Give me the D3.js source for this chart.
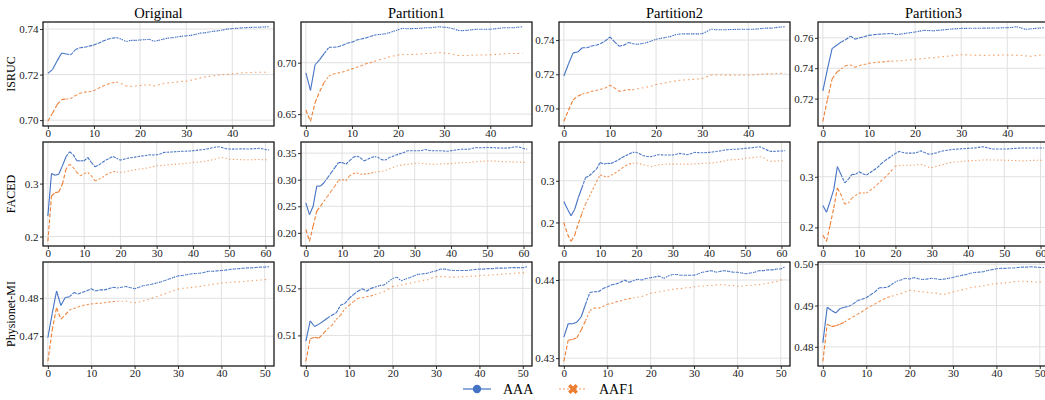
<!DOCTYPE html>
<html>
<head>
<meta charset="utf-8">
<script src="https://cdn.jsdelivr.net/npm/d3@7"></script>
<style>
body { margin: 0; background: #fff; }
svg { font-family: "Liberation Serif", "DejaVu Serif", serif; }
</style>
</head>
<body>
<svg id="chart" width="1045" height="400"></svg>
<script>
// facets
var datasets = ["ISRUC", "FACED", "Physionet-MI"];
var splits = ["Original", "Partition1", "Partition2", "Partition3"];
var methods = ["AAA", "AAF1"];

// tick labels
var xTicks = [[0, 10, 20, 30, 40], [0, 10, 20, 30, 40, 50, 60], [0, 10, 20, 30, 40, 50]];
var isrucTicks = [[0.70, 0.72, 0.74], [0.65, 0.70], [0.70, 0.72, 0.74], [0.72, 0.74, 0.76]];
var facedTicks = [[0.2, 0.3], [0.20, 0.25, 0.30, 0.35], [0.2, 0.3], [0.2, 0.3]];
var physioTicks = [[0.47, 0.48], [0.51, 0.52], [0.43, 0.44], [0.48, 0.49, 0.50]];

// ---- ISRUC ----
var isrucOrigAAA = [0.7205,0.7222,0.7260,0.7295,0.7290,0.7287,0.7310,0.7318,0.7320,0.7325,0.7330,0.7338,0.7347,0.7355,0.7360,0.7362,0.7355,0.7345,0.7350,0.7350,0.7352,0.7353,0.7355,0.7346,0.7350,0.7355,0.7360,0.7362,0.7365,0.7368,0.7370,0.7372,0.7376,0.7382,0.7383,0.7387,0.7390,0.7392,0.7396,0.7400,0.7402,0.7403,0.7405,0.7406,0.7407,0.7408,0.7408,0.7409,0.7410];
var isrucOrigAAF1 = [0.6995,0.7030,0.7068,0.7090,0.7093,0.7095,0.7108,0.7118,0.7123,0.7125,0.7130,0.7140,0.7150,0.7158,0.7164,0.7167,0.7160,0.7150,0.7148,0.7150,0.7152,0.7154,0.7155,0.7150,0.7155,0.7160,0.7163,0.7165,0.7167,0.7170,0.7171,0.7175,0.7180,0.7185,0.7189,0.7192,0.7195,0.7198,0.7200,0.7201,0.7203,0.7205,0.7207,0.7208,0.7209,0.7210,0.7210,0.7210,0.7210];
var isrucP1AAA = [0.690,0.673,0.698,0.703,0.709,0.715,0.715,0.7155,0.717,0.719,0.720,0.722,0.723,0.724,0.7255,0.727,0.7275,0.728,0.729,0.7305,0.732,0.7335,0.733,0.7332,0.7333,0.7335,0.734,0.734,0.7345,0.735,0.7345,0.734,0.733,0.7315,0.7312,0.7315,0.732,0.7325,0.7325,0.7325,0.7325,0.733,0.7335,0.734,0.734,0.734,0.7345,0.735];
var isrucP1AAF1 = [0.654,0.643,0.661,0.672,0.681,0.687,0.689,0.690,0.691,0.6925,0.694,0.6955,0.697,0.699,0.700,0.7015,0.703,0.704,0.7055,0.7065,0.7075,0.708,0.708,0.708,0.7082,0.7085,0.709,0.709,0.7095,0.710,0.7095,0.709,0.708,0.707,0.707,0.707,0.7072,0.7075,0.7075,0.7075,0.7076,0.708,0.7082,0.7085,0.709,0.709,0.709,0.7092];
var isrucP2AAA = [0.719,0.726,0.7325,0.733,0.7355,0.7355,0.7365,0.737,0.738,0.7395,0.7418,0.739,0.7364,0.737,0.7386,0.7378,0.7375,0.738,0.7385,0.7395,0.7405,0.741,0.7415,0.742,0.743,0.7435,0.7436,0.7436,0.7436,0.7436,0.7437,0.745,0.7465,0.746,0.746,0.746,0.7462,0.7462,0.7463,0.7463,0.7463,0.7463,0.7465,0.7468,0.747,0.747,0.7473,0.7476,0.7478];
var isrucP2AAF1 = [0.6925,0.699,0.705,0.7072,0.7085,0.709,0.710,0.7105,0.7112,0.712,0.7136,0.712,0.710,0.7105,0.711,0.711,0.7115,0.712,0.7125,0.713,0.714,0.7145,0.715,0.7155,0.716,0.7164,0.7166,0.7168,0.717,0.7172,0.7175,0.7185,0.7196,0.7196,0.7196,0.7195,0.7195,0.7194,0.7194,0.7194,0.7194,0.7196,0.7198,0.720,0.7202,0.7203,0.7204,0.7205,0.7206];
var isrucP3AAA = [0.7251,0.7396,0.7529,0.7551,0.7573,0.7589,0.7611,0.7591,0.7600,0.7608,0.7616,0.7620,0.7624,0.7625,0.7627,0.7629,0.7620,0.7625,0.7630,0.7634,0.7638,0.7644,0.7649,0.7648,0.7646,0.7649,0.7652,0.7655,0.7658,0.7660,0.7662,0.7662,0.7663,0.7663,0.7663,0.7664,0.7664,0.7665,0.7665,0.7666,0.7667,0.7668,0.7673,0.7665,0.7656,0.7658,0.7662,0.7664,0.7667];
var isrucP3AAF1 = [0.7051,0.7196,0.7329,0.7373,0.7396,0.7418,0.7422,0.7407,0.7418,0.7425,0.7433,0.7436,0.7440,0.7442,0.7445,0.7447,0.7448,0.7450,0.7452,0.7455,0.7458,0.7461,0.7464,0.7467,0.7470,0.7473,0.7476,0.7479,0.7482,0.7486,0.7489,0.7488,0.7487,0.7486,0.7485,0.7484,0.7485,0.7486,0.7486,0.7487,0.7487,0.7486,0.7485,0.7484,0.7481,0.7478,0.7482,0.7486,0.7489];

// ---- FACED ----
var facedOrigAAA = [0.2386,0.319,0.3158,0.3177,0.3335,0.3506,0.3601,0.3544,0.343,0.343,0.343,0.3494,0.3399,0.3316,0.3348,0.3399,0.3443,0.348,0.3513,0.3475,0.3443,0.346,0.348,0.349,0.350,0.3513,0.352,0.353,0.3544,0.354,0.3544,0.356,0.3589,0.3592,0.3596,0.3601,0.3605,0.361,0.3612,0.3615,0.362,0.3628,0.3636,0.3645,0.3655,0.3671,0.3685,0.3696,0.368,0.366,0.3652,0.365,0.3652,0.3655,0.3655,0.3652,0.3655,0.366,0.3665,0.3658,0.3645,0.3633];
var facedOrigAAF1 = [0.1911,0.2766,0.283,0.2842,0.2987,0.3272,0.3367,0.3304,0.3209,0.3146,0.319,0.3209,0.3146,0.3051,0.3082,0.3114,0.3165,0.320,0.3228,0.322,0.3209,0.322,0.3235,0.325,0.326,0.3272,0.328,0.329,0.3305,0.332,0.3335,0.334,0.3345,0.335,0.336,0.3367,0.337,0.3375,0.338,0.339,0.3399,0.3405,0.341,0.3418,0.343,0.3443,0.346,0.3478,0.3494,0.348,0.3462,0.3458,0.3455,0.3452,0.345,0.345,0.345,0.3452,0.3455,0.3452,0.345,0.345];
var facedP1AAA = [0.2565,0.2342,0.250,0.288,0.288,0.2943,0.3038,0.3132,0.3227,0.3322,0.3322,0.329,0.3353,0.3416,0.3448,0.3416,0.3353,0.3385,0.3416,0.3435,0.3416,0.3372,0.3372,0.3416,0.344,0.3467,0.349,0.3511,0.3543,0.3543,0.3543,0.3545,0.355,0.3568,0.355,0.3543,0.3545,0.3545,0.354,0.3535,0.3543,0.3555,0.3565,0.3574,0.357,0.3574,0.359,0.3606,0.360,0.3602,0.3606,0.3604,0.360,0.3598,0.3595,0.3593,0.3598,0.361,0.362,0.361,0.3585,0.3574];
var facedP1AAF1 = [0.2063,0.1842,0.2126,0.241,0.250,0.2597,0.2691,0.2786,0.288,0.2987,0.3006,0.2975,0.307,0.3113,0.3132,0.3101,0.3105,0.3113,0.3125,0.314,0.3151,0.316,0.3176,0.320,0.323,0.3258,0.327,0.328,0.329,0.330,0.3309,0.331,0.3305,0.330,0.3295,0.329,0.329,0.3295,0.330,0.3302,0.3303,0.331,0.3315,0.3318,0.332,0.3322,0.333,0.334,0.3345,0.335,0.3353,0.3352,0.335,0.3345,0.334,0.334,0.3338,0.3335,0.3332,0.333,0.3325,0.3322];
var facedP2AAA = [0.2504,0.232,0.216,0.232,0.26,0.284,0.308,0.312,0.32,0.328,0.344,0.34,0.3416,0.3416,0.3456,0.3496,0.356,0.360,0.364,0.368,0.368,0.364,0.360,0.358,0.3576,0.360,0.3624,0.362,0.3618,0.3616,0.3616,0.3636,0.3656,0.364,0.3624,0.365,0.368,0.3675,0.367,0.3675,0.368,0.369,0.370,0.3715,0.373,0.3744,0.375,0.3755,0.376,0.3768,0.3776,0.3785,0.3795,0.3805,0.3816,0.378,0.3735,0.3704,0.3705,0.371,0.3715,0.372];
var facedP2AAF1 = [0.200,0.172,0.155,0.170,0.198,0.222,0.245,0.262,0.280,0.298,0.314,0.311,0.309,0.313,0.318,0.323,0.330,0.336,0.340,0.342,0.3424,0.3405,0.3384,0.336,0.3336,0.336,0.3384,0.339,0.3395,0.3398,0.340,0.340,0.340,0.340,0.340,0.340,0.3405,0.341,0.3415,0.342,0.3424,0.343,0.344,0.3455,0.347,0.3496,0.350,0.3505,0.351,0.352,0.3536,0.3545,0.3555,0.3565,0.3576,0.355,0.350,0.3464,0.347,0.3475,0.348,0.348];
var facedP3AAA = [0.2433,0.23,0.2513,0.2747,0.32,0.3047,0.288,0.2947,0.3047,0.3047,0.31,0.306,0.3033,0.308,0.313,0.318,0.325,0.3313,0.336,0.3413,0.346,0.35,0.348,0.3467,0.3467,0.3467,0.348,0.3513,0.348,0.3447,0.345,0.3467,0.349,0.351,0.352,0.3533,0.354,0.3545,0.355,0.3555,0.356,0.3565,0.357,0.358,0.3593,0.358,0.356,0.3547,0.3547,0.3547,0.3547,0.355,0.3555,0.356,0.3565,0.3567,0.3567,0.3567,0.3567,0.3567,0.3567,0.3567];
var facedP3AAF1 = [0.1847,0.1727,0.2047,0.238,0.278,0.2647,0.246,0.248,0.258,0.263,0.268,0.268,0.268,0.273,0.278,0.285,0.2913,0.298,0.3047,0.313,0.3213,0.322,0.3227,0.3227,0.3227,0.3227,0.324,0.3247,0.322,0.319,0.318,0.320,0.322,0.324,0.326,0.328,0.329,0.3295,0.330,0.3305,0.3313,0.3318,0.3322,0.3326,0.333,0.3333,0.3332,0.3331,0.333,0.3328,0.3327,0.3325,0.3322,0.332,0.3316,0.3313,0.3316,0.332,0.3323,0.3325,0.3327,0.3327];

// ---- Physionet-MI ----
var physioOrigAAA = [0.4696,0.476,0.4819,0.4781,0.4802,0.4804,0.4815,0.4811,0.4816,0.482,0.4825,0.4819,0.4822,0.4822,0.4825,0.4829,0.4827,0.4829,0.4831,0.4828,0.4825,0.4829,0.4833,0.4835,0.4837,0.484,0.4843,0.4847,0.4851,0.4855,0.4859,0.486,0.4862,0.4864,0.4865,0.4866,0.4868,0.4871,0.4871,0.4872,0.4873,0.4874,0.4876,0.4877,0.4878,0.4879,0.488,0.488,0.4881,0.4882,0.4882,0.4883];
var physioOrigAAF1 = [0.4634,0.4716,0.4775,0.4745,0.4756,0.4769,0.4773,0.4777,0.4781,0.4783,0.4785,0.4786,0.4787,0.4788,0.479,0.4791,0.4792,0.4792,0.4793,0.479,0.4788,0.479,0.4793,0.4796,0.48,0.4804,0.4808,0.4812,0.4816,0.482,0.4824,0.4826,0.4827,0.4828,0.483,0.4831,0.4833,0.4835,0.4837,0.4838,0.484,0.4841,0.4842,0.4843,0.4843,0.4844,0.4845,0.4846,0.4847,0.4848,0.4849,0.485];
var physioP1AAA = [0.5088,0.5131,0.5119,0.5124,0.513,0.5137,0.5143,0.5148,0.5164,0.5168,0.5179,0.5187,0.5194,0.5199,0.5194,0.52,0.5203,0.5206,0.5207,0.5214,0.5221,0.5224,0.5216,0.522,0.5223,0.5227,0.523,0.5231,0.5232,0.5235,0.5237,0.5241,0.5241,0.5239,0.5238,0.5238,0.5238,0.5238,0.5239,0.524,0.5241,0.5241,0.5242,0.5242,0.5243,0.5243,0.5243,0.5244,0.5244,0.5244,0.5244,0.5246];
var physioP1AAF1 = [0.5045,0.5093,0.5096,0.5094,0.5104,0.5114,0.5121,0.5134,0.5143,0.5157,0.5164,0.5172,0.5179,0.518,0.5182,0.5184,0.5187,0.519,0.5193,0.5198,0.5204,0.5205,0.5207,0.5209,0.5211,0.5213,0.5215,0.5217,0.5218,0.5222,0.5225,0.5225,0.5225,0.5224,0.5224,0.5224,0.5225,0.5225,0.5226,0.5226,0.5227,0.5228,0.5228,0.5229,0.5229,0.523,0.5231,0.5231,0.5232,0.5233,0.5233,0.5234];
var physioP2AAA = [0.4327,0.4344,0.4344,0.4346,0.4353,0.4369,0.4384,0.4385,0.4385,0.4389,0.4391,0.4394,0.4395,0.4397,0.44,0.4397,0.4399,0.4401,0.44,0.4402,0.4403,0.4404,0.4405,0.4402,0.4405,0.4407,0.4407,0.4406,0.4406,0.4406,0.4406,0.4408,0.441,0.4411,0.4412,0.441,0.4411,0.4412,0.4411,0.441,0.441,0.4409,0.4408,0.4409,0.441,0.4412,0.4412,0.4413,0.4413,0.4414,0.4414,0.4417];
var physioP2AAF1 = [0.4296,0.4323,0.4324,0.4326,0.4336,0.4348,0.4361,0.4364,0.4364,0.4366,0.4369,0.437,0.4372,0.4373,0.4375,0.4376,0.4377,0.4378,0.4379,0.4381,0.4383,0.4384,0.4385,0.4386,0.4387,0.4388,0.4389,0.4389,0.439,0.439,0.4391,0.4392,0.4392,0.4393,0.4393,0.4394,0.4394,0.4394,0.4393,0.4393,0.4392,0.4392,0.4393,0.4393,0.4394,0.4394,0.4395,0.4396,0.4397,0.4398,0.44,0.4401];
var physioP3AAA = [0.481,0.4896,0.4888,0.4882,0.4893,0.4896,0.4898,0.4904,0.4912,0.4915,0.4919,0.4926,0.4933,0.4943,0.4943,0.4945,0.4952,0.4959,0.4962,0.4966,0.4964,0.4968,0.4965,0.4963,0.4964,0.4966,0.4965,0.4963,0.4964,0.4966,0.4968,0.4971,0.4973,0.4975,0.4978,0.498,0.4981,0.4982,0.4985,0.4987,0.4989,0.499,0.499,0.4991,0.4991,0.4992,0.4993,0.4993,0.4994,0.4993,0.4992,0.4992];
var physioP3AAF1 = [0.4765,0.4855,0.4849,0.4851,0.4855,0.486,0.4867,0.4873,0.4879,0.4885,0.4892,0.4898,0.4904,0.491,0.4915,0.492,0.4923,0.4926,0.4929,0.4933,0.4937,0.4936,0.4934,0.4933,0.4932,0.4931,0.493,0.4928,0.4927,0.493,0.4933,0.4935,0.4938,0.494,0.4943,0.4945,0.4946,0.4948,0.495,0.4952,0.4953,0.4954,0.4955,0.4956,0.4958,0.4959,0.4959,0.4958,0.4958,0.4957,0.4957,0.4957];

// table the loops read from: [row][col] -> [AAA, AAF1]
var table = [
    [[isrucOrigAAA, isrucOrigAAF1], [isrucP1AAA, isrucP1AAF1], [isrucP2AAA, isrucP2AAF1], [isrucP3AAA, isrucP3AAF1]],
    [[facedOrigAAA, facedOrigAAF1], [facedP1AAA, facedP1AAF1], [facedP2AAA, facedP2AAF1], [facedP3AAA, facedP3AAF1]],
    [[physioOrigAAA, physioOrigAAF1], [physioP1AAA, physioP1AAF1], [physioP2AAA, physioP2AAF1], [physioP3AAA, physioP3AAF1]]
];
var yTicks = [isrucTicks, facedTicks, physioTicks];

var color = d3.scaleOrdinal().domain(methods).range(["#4472c4", "#ed7d31"]);

var colX = [43, 301, 559, 818],
    rowY = [22, 142, 262],
    panelW = 231,
    panelH = 104;

var svg = d3.select("#chart");
var defs = svg.append("defs");

// line look changes along the run: solid -> dashed -> dotted
function segStyle(m, i, n) {
    var t = i / n;
    if (m === "AAA") {
        if (t < 0.08) return { dash: null, op: 1 };
        if (t < 0.3) return { dash: "3,1", op: 1 };
        return { dash: "1.5,1.2", op: 1 };
    }
    if (t < 0.08) return { dash: "4,2", op: 1 };
    if (t < 0.3) return { dash: "2,2", op: 0.85 };
    return { dash: "1.2,3", op: 0.75 };
}

datasets.forEach(function(ds, r) {
    var nMax = d3.max(table[r], function(p) { return p[0].length - 1; });
    var pad = nMax * 0.022;

    splits.forEach(function(sp, c) {
        var vals = table[r][c];
        var x = d3.scaleLinear().domain([-pad, nMax + pad]).range([0, panelW]);
        var ext = d3.extent(vals[0].concat(vals[1]));
        var yp = (ext[1] - ext[0]) * 0.05;
        var y = d3.scaleLinear().domain([ext[0] - yp, ext[1] + yp]).range([panelH, 0]);

        var g = svg.append("g")
            .attr("transform", "translate(" + colX[c] + "," + rowY[r] + ")");

        var clipId = "clip" + r + c;
        defs.append("clipPath").attr("id", clipId)
            .append("rect").attr("width", panelW).attr("height", panelH);

        // grid
        g.append("g").selectAll("line.gx")
            .data(xTicks[r]).enter().append("line")
            .attr("x1", function(d) { return x(d); })
            .attr("x2", function(d) { return x(d); })
            .attr("y1", 0).attr("y2", panelH)
            .attr("stroke", "#e0e0e0").attr("stroke-width", 1);
        g.append("g").selectAll("line.gy")
            .data(yTicks[r][c]).enter().append("line")
            .attr("y1", function(d) { return y(d); })
            .attr("y2", function(d) { return y(d); })
            .attr("x1", 0).attr("x2", panelW)
            .attr("stroke", "#e0e0e0").attr("stroke-width", 1);

        // lines
        var line = d3.line()
            .x(function(d) { return x(d[0]); })
            .y(function(d) { return y(d[1]); });
        var lines = g.append("g").attr("clip-path", "url(#" + clipId + ")");
        methods.slice().reverse().forEach(function(m) {
            var arr = vals[methods.indexOf(m)];
            var n = arr.length - 1;
            for (var i = 0; i < n; i++) {
                var st = segStyle(m, i, n);
                lines.append("path")
                    .attr("d", line([[i, arr[i]], [i + 1, arr[i + 1]]]))
                    .attr("fill", "none")
                    .attr("stroke", color(m))
                    .attr("stroke-width", 1.1)
                    .attr("stroke-opacity", st.op)
                    .attr("stroke-dasharray", st.dash);
            }
        });

        // axes
        var step = +(yTicks[r][c][1] - yTicks[r][c][0]).toFixed(6);
        var fmt = d3.format("." + d3.precisionFixed(step) + "f");
        var ax = g.append("g").attr("transform", "translate(0," + panelH + ")")
            .call(d3.axisBottom(x).tickValues(xTicks[r]).tickSize(3).tickPadding(0));
        var ay = g.append("g")
            .call(d3.axisLeft(y).tickValues(yTicks[r][c]).tickFormat(fmt).tickSize(3).tickPadding(1.5));
        [ax, ay].forEach(function(a) {
            a.select(".domain").remove();
            a.selectAll(".tick line").attr("stroke", "#333");
            a.selectAll(".tick text")
                .attr("fill", "#1a1a1a")
                .style("font-size", "11px")
                .style("font-family", "'Liberation Serif', serif");
        });

        // border
        g.append("rect")
            .attr("width", panelW).attr("height", panelH)
            .attr("fill", "none").attr("stroke", "#1a1a1a").attr("stroke-width", 1.3);

        if (r === 0) {
            svg.append("text")
                .attr("x", colX[c] + panelW / 2).attr("y", 17.5)
                .attr("text-anchor", "middle")
                .style("font-size", "14.5px")
                .text(sp);
        }
        if (c === 0) {
            svg.append("text")
                .attr("transform", "translate(15," + (rowY[r] + panelH / 2) + ") rotate(-90)")
                .attr("text-anchor", "middle")
                .style("font-size", "12px")
                .text(ds);
        }
    });
});

// legend
var legend = svg.append("g").attr("transform", "translate(0,389)");
var legX = [463, 559];
methods.forEach(function(m, i) {
    var lg = legend.append("g").attr("transform", "translate(" + legX[i] + ",0)");
    lg.append("line")
        .attr("x1", 0).attr("x2", 28)
        .attr("stroke", color(m)).attr("stroke-width", 1.2)
        .attr("stroke-opacity", i ? 0.8 : 1)
        .attr("stroke-dasharray", i ? "2,2" : null);
    lg.append("path")
        .attr("transform", "translate(14,0)" + (i ? " rotate(45)" : ""))
        .attr("d", d3.symbol().type(i ? d3.symbolCross : d3.symbolCircle).size(i ? 60 : 55)())
        .attr("fill", color(m));
    lg.append("text")
        .attr("x", 40).attr("y", 4.5)
        .style("font-size", "14px")
        .text(m);
});
</script>
</body>
</html>
